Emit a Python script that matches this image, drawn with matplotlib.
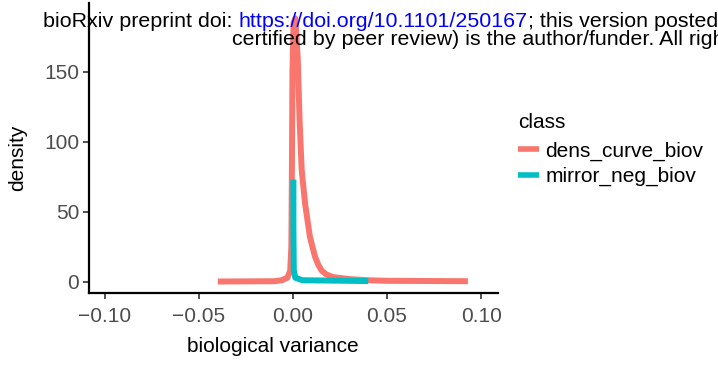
import matplotlib
matplotlib.use("Agg")
import matplotlib.pyplot as plt

plt.rcParams['font.family'] = ['Liberation Sans', 'DejaVu Sans']

# density curve of biological variance
red_x = [-0.040, -0.010, -0.006, -0.003, -0.0015, -0.0009, -0.0006, -0.0003,
         0.0003, 0.0012, 0.0025, 0.0035, 0.0046, 0.0064, 0.0090, 0.0117,
         0.0135, 0.0153, 0.0175, 0.021, 0.030, 0.040, 0.050, 0.093]
red_y = [0.3, 0.5, 1.2, 3, 8, 25, 80, 150,
         185, 188, 160, 115, 80, 56, 32, 18,
         12, 8, 5.5, 3.5, 2, 1.2, 0.8, 0.5]

# mirrored negative part
teal_x = [0.0002, 0.0002, 0.0004, 0.0012, 0.005, 0.040]
teal_y = [73, 40, 8.5, 3, 1.2, 0.6]

labels = ['dens_curve_biov', 'mirror_neg_biov']
colors = ['#F8766D', '#00BFC4']

fig = plt.figure(figsize=(7.18, 3.67), dpi=100)
ax = fig.add_axes([89/718, 1 - 293/367, (498 - 89)/718, 290/367])

ax.plot(red_x, red_y, color=colors[0], lw=4.3, solid_capstyle='butt', label=labels[0])
ax.plot(teal_x, teal_y, color=colors[1], lw=4.3, solid_capstyle='butt', label=labels[1])

ax.set_xlim(-0.1085, 0.109)
ax.set_ylim(-7.9, 199)
ax.set_xticks([-0.10, -0.05, 0.00, 0.05, 0.10])
ax.set_xticklabels(['\u22120.10', '\u22120.05', '0.00', '0.05', '0.10'])
ax.set_yticks([0, 50, 100, 150])
for s in ['top', 'right']:
    ax.spines[s].set_visible(False)
for s in ['left', 'bottom']:
    ax.spines[s].set_linewidth(1.6)
ax.tick_params(axis='both', labelsize=15, width=1.2, length=4, color='#333333', labelcolor='#4D4D4D')
ax.tick_params(axis='x', pad=6)
ax.tick_params(axis='y', pad=3)
ax.set_xlabel('biological variance', fontsize=15)
ax.set_ylabel('density', fontsize=15)
ax.xaxis.set_label_coords((273 - 89)/409, -(347 - 293)/290)
ax.yaxis.set_label_coords(-(89 - 18)/409, (293 - 158)/290)
ax.xaxis.label.set_va('center')
ax.yaxis.label.set_va('center')

leg = ax.legend(title='class', loc='upper left', bbox_to_anchor=(518/718, 1 - 113/367),
                bbox_transform=fig.transFigure, frameon=False, fontsize=15,
                title_fontsize=15, handlelength=1.0, handletextpad=0.3,
                labelspacing=0.3, borderaxespad=0, borderpad=0)
leg._legend_box.align = 'left'
leg._legend_box.sep = 7
for h in leg.legend_handles:
    h.set_linewidth(4)

# preprint header (clipped at right edge like the source)
renderer = fig.canvas.get_renderer()
fs = 15.4
t1 = fig.text(43/718, 1 - 27/367, 'bioRxiv preprint doi: ', fontsize=fs, va='baseline', zorder=10)
w1 = t1.get_window_extent(renderer).width
t2 = fig.text((43 + w1)/718, 1 - 27/367, 'https://doi.org/10.1101/250167', fontsize=fs,
              color='blue', va='baseline', zorder=10)
w2 = t2.get_window_extent(renderer).width
fig.text((43 + w1 + w2)/718, 1 - 27/367, '; this version posted',
         fontsize=fs, va='baseline', zorder=10)
fig.text(232/718, 1 - 45/367, 'certified by peer review) is the author/funder. All righ',
         fontsize=fs, va='baseline', zorder=10)

fig.savefig('out.png', dpi=100)
